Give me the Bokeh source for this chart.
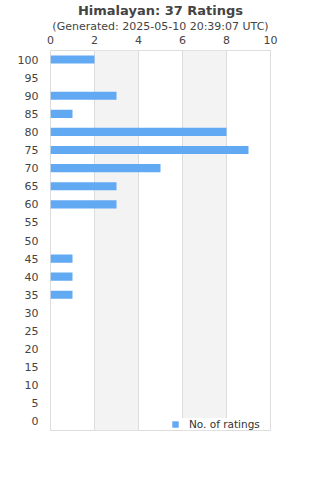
from bokeh.plotting import figure
from bokeh.models import Legend, LegendItem, FactorRange, Range1d, FixedTicker, ColumnDataSource, Title
from bokeh.embed import file_html
from bokeh.resources import INLINE

title = "Himalayan: 37 Ratings"
subtitle = "(Generated: 2025-05-10 20:39:07 UTC)"
scores = ["0", "5", "10", "15", "20", "25", "30", "35", "40", "45", "50",
          "55", "60", "65", "70", "75", "80", "85", "90", "95", "100"]
counts = [0, 0, 0, 0, 0, 0, 0, 1, 1, 1, 0, 0, 3, 3, 5, 9, 8, 1, 3, 0, 2]
x_ticks = [0, 2, 4, 6, 8, 10]
series_name = "No. of ratings"

FONT = "DejaVu Sans"
TXT = "#444444"
BAR = "#62a9f3"

src = ColumnDataSource(dict(score=scores, count=counts))

p = figure(width=320, height=480, output_backend="svg", toolbar_location=None,
           y_range=FactorRange(*scores), x_range=Range1d(0, 10),
           x_axis_location="above",
           min_border_left=50, min_border_right=50, min_border_top=0, min_border_bottom=50)
p.background_fill_color = "white"
p.border_fill_color = "white"
p.outline_line_color = "#dddddd"

p.xaxis.ticker = FixedTicker(ticks=x_ticks)
for ax in (p.xaxis[0], p.yaxis[0]):
    ax.axis_line_color = None
    ax.major_tick_line_color = None
    ax.minor_tick_line_color = None
    ax.major_tick_out = 0
    ax.major_tick_in = 0
    ax.major_label_text_font = FONT
    ax.major_label_text_font_size = "11px"
    ax.major_label_text_color = TXT
p.xaxis.major_label_standoff = 7
p.yaxis.major_label_standoff = 12

p.ygrid.grid_line_color = None
p.xgrid.grid_line_color = "#dddddd"
p.xgrid.band_fill_color = "#f3f3f3"
p.xgrid.band_fill_alpha = 1

bars = p.hbar(y="score", right="count", left=0, height=0.45, source=src,
              fill_color=BAR, line_color=None)

p.title.text = title
p.title.align = "center"
p.title.text_font = FONT
p.title.text_font_size = "13px"
p.title.text_font_style = "bold"
p.title.text_color = TXT
p.title.standoff = 0
p.title.offset = 0

sub = Title(text=subtitle, align="center", text_font=FONT, text_font_size="11px",
            text_font_style="normal", text_color=TXT, standoff=0)
p.add_layout(sub, "above")

legend = Legend(items=[LegendItem(label=series_name, renderers=[bars])],
                location=(121, 0), orientation="horizontal",
                background_fill_color="white", background_fill_alpha=1,
                border_line_color=None, label_text_font=FONT,
                label_text_font_size="10.5px", label_text_color="#333333",
                glyph_width=8, glyph_height=8, label_height=12, label_standoff=10,
                padding=4, margin=0)
p.add_layout(legend, "center")

open("out.html", "w").write(file_html(p, INLINE))
